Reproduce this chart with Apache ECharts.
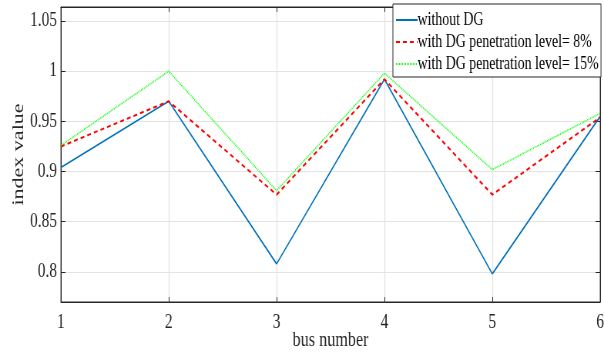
<!DOCTYPE html>
<html>
<head>
<meta charset="utf-8">
<script src="https://cdn.jsdelivr.net/npm/echarts@6/dist/echarts.min.js"></script>
<style>
  html, body { margin: 0; padding: 0; background: #fff; }
  #wrap { width: 604px; height: 352px; overflow: hidden; }
  /* the original figure is squeezed horizontally, so draw wider and squeeze */
  #chart { width: 784px; height: 352px; transform: scaleX(0.77041); transform-origin: 0 0; }
</style>
</head>
<body>
<div id="wrap"><div id="chart"></div></div>
<script>
// bus numbers and index values
const buses = [1, 2, 3, 4, 5, 6];
const withoutDG = [0.904, 0.970, 0.808, 0.992, 0.798, 0.955];
const dg8 = [0.925, 0.970, 0.877, 0.992, 0.877, 0.954];
const dg15 = [0.926, 1.000, 0.881, 0.998, 0.902, 0.958];
const yTicks = [0.8, 0.85, 0.9, 0.95, 1, 1.05];
const seriesNames = ['without DG', 'with DG penetration level= 8%', 'with DG penetration level= 15%'];

const font = 'Liberation Serif';
const pair = (vals) => buses.map((b, i) => [b, vals[i]]);

const chart = echarts.init(document.getElementById('chart'));

function lineSeries(name, vals, color, type, width) {
  return {
    name: name,
    type: 'line',
    data: pair(vals),
    symbol: 'none',
    lineStyle: { color: color, type: type, width: width },
    itemStyle: { color: color },
    animation: false
  };
}

const axisColor = '#262626';

chart.setOption({
  backgroundColor: '#fff',
  animation: false,
  grid: {
    left: 79, right: 5, top: 7, bottom: 50,
    outerBoundsMode: 'none', containLabel: false,
    show: true, borderColor: axisColor, borderWidth: 1
  },
  legend: {
    orient: 'vertical',
    left: 510,
    top: 4,
    padding: [7, 3, 4, 3],
    itemGap: 4,
    itemWidth: 28,
    itemHeight: 14,
    backgroundColor: '#fff',
    borderColor: axisColor,
    borderWidth: 1,
    borderRadius: 0,
    itemStyle: { opacity: 0 },
    textStyle: { fontFamily: font, fontSize: 18, lineHeight: 18, color: '#000', padding: [0, 0, 0, -5] },
    data: seriesNames
  },
  xAxis: [{
    type: 'value',
    min: 1, max: 6, interval: 1,
    name: 'bus number',
    nameLocation: 'middle',
    nameGap: 28,
    nameMoveOverlap: false,
    nameTextStyle: { fontFamily: font, fontSize: 21, color: axisColor },
    axisLine: { show: true, onZero: false, lineStyle: { color: axisColor } },
    axisTick: { show: true, inside: true, length: 5, lineStyle: { color: axisColor } },
    axisLabel: { fontFamily: font, fontSize: 20, color: axisColor, margin: 11 },
    splitLine: { show: true, lineStyle: { color: '#e3e3e3', width: 1.3 } }
  }, {
    type: 'value', position: 'top',
    min: 1, max: 6, interval: 1,
    axisLine: { show: true, lineStyle: { color: axisColor } },
    axisTick: { show: true, inside: true, length: 5, lineStyle: { color: axisColor } },
    axisLabel: { show: false },
    splitLine: { show: false }
  }],
  yAxis: [{
    type: 'value',
    min: 0.77, max: 1.064,
    name: 'index value',
    nameLocation: 'middle',
    nameGap: 44,
    nameMoveOverlap: false,
    nameTextStyle: { fontFamily: font, fontSize: 22, color: axisColor },
    axisLine: { show: true, onZero: false, lineStyle: { color: axisColor } },
    axisTick: { show: true, inside: true, length: 6, customValues: yTicks, lineStyle: { color: axisColor } },
    axisLabel: { fontFamily: font, fontSize: 20, color: axisColor, margin: 5, customValues: yTicks },
    splitLine: { show: true, lineStyle: { color: '#e3e3e3' } }
  }, {
    type: 'value', position: 'right',
    min: 0.77, max: 1.064,
    axisLine: { show: true, lineStyle: { color: axisColor } },
    axisTick: { show: true, inside: true, length: 6, customValues: yTicks, lineStyle: { color: axisColor } },
    axisLabel: { show: false },
    splitLine: { show: false }
  }],
  series: [
    lineSeries(seriesNames[0], withoutDG, '#0072BD', 'solid', 1.6),
    lineSeries(seriesNames[1], dg8, '#FF0000', [5, 4], 2),
    lineSeries(seriesNames[2], dg15, '#00FF00', [1, 1], 1.6)
  ]
});
</script>
</body>
</html>
